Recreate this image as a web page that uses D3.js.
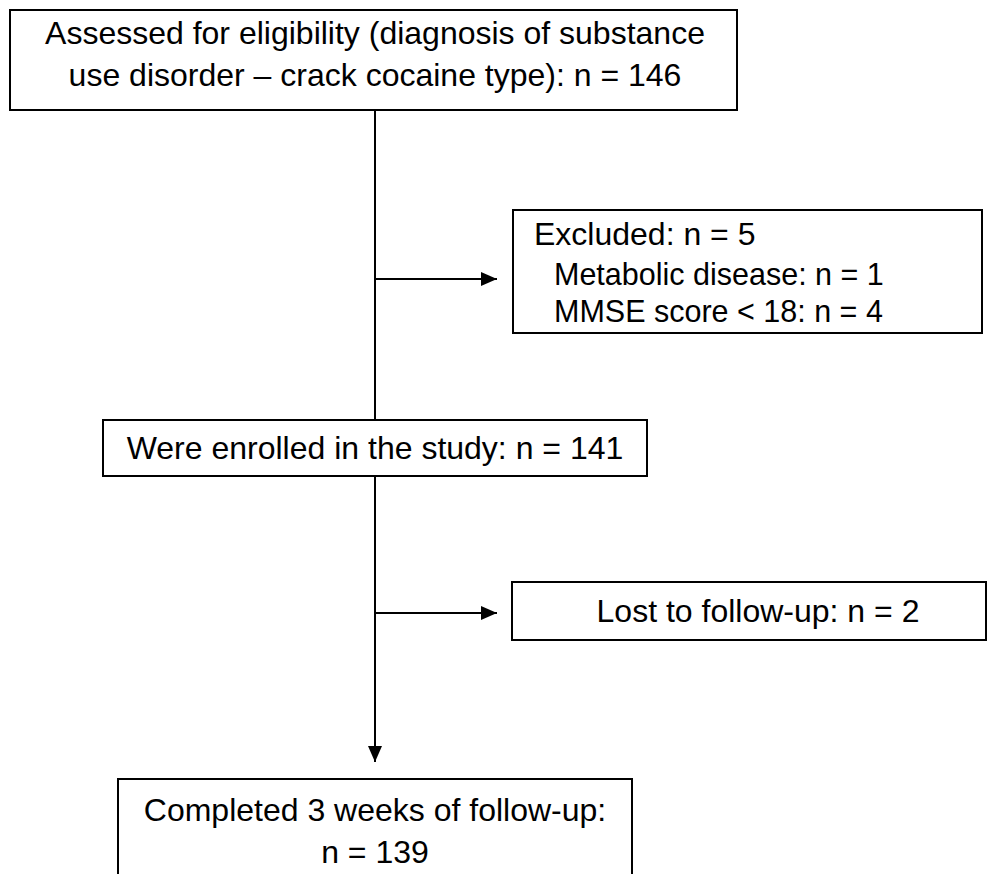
<!DOCTYPE html>
<html lang="en">
<head>
  <meta charset="UTF-8">
  <title>Study flow</title>
  <style>
    body { margin: 0; background: #fff; }
    .box { fill: #fff; stroke: #000; stroke-width: 2px; }
    .link { fill: none; stroke: #000; stroke-width: 2px; }
    text { font-family: "Liberation Sans", Arial, sans-serif; fill: #000; }
  </style>
</head>
<body>
  <script src="https://d3js.org/d3.v7.min.js"></script>
  <script>
    // flow data
    const stageLines = [
      ["Assessed for eligibility (diagnosis of substance", "use disorder \u2013 crack cocaine type): n = "],
      ["Were enrolled in the study: n = "],
      ["Completed 3 weeks of follow-up:", "n = "]
    ];
    const stageN = [146, 141, 139];
    const excludedN = 5;
    const exclusionReasons = ["Metabolic disease", "MMSE score < 18"];
    const exclusionN = [1, 4];
    const lostN = 2;

    const svg = d3.select('body')
      .append('svg')
      .attr('width', 991)
      .attr('height', 874);

    svg.append('defs').append('marker')
      .attr('id', 'arrow')
      .attr('viewBox', '0 0 16 14')
      .attr('refX', 16).attr('refY', 7)
      .attr('markerWidth', 16).attr('markerHeight', 14)
      .attr('markerUnits', 'userSpaceOnUse')
      .attr('orient', 'auto')
      .append('path')
      .attr('d', 'M0,0L16,7L0,14Z')
      .attr('fill', '#000');

    const cx = 375;

    // main boxes
    const mainBoxes = [
      {x: 10, y: 10, w: 727, h: 100, base: 44},
      {x: 103, y: 420, w: 544, h: 56, base: 459},
      {x: 118, y: 779, w: 514, h: 110, base: 821}
    ];
    mainBoxes.forEach((b, i) => {
      svg.append('rect').attr('class', 'box')
        .attr('x', b.x).attr('y', b.y).attr('width', b.w).attr('height', b.h);
      const lines = stageLines[i].slice();
      lines[lines.length - 1] += stageN[i];
      svg.append('g').selectAll('text')
        .data(lines)
        .join('text')
        .attr('x', cx)
        .attr('y', (d, j) => b.base + j * 42)
        .attr('text-anchor', 'middle')
        .style('font-size', '32px')
        .text(d => d);
    });

    // side boxes
    svg.append('rect').attr('class', 'box')
      .attr('x', 513).attr('y', 210).attr('width', 469).attr('height', 123);
    svg.append('text')
      .attr('x', 534).attr('y', 245)
      .style('font-size', '32px')
      .text(`Excluded: n = ${excludedN}`);
    svg.append('g').selectAll('text')
      .data(exclusionReasons)
      .join('text')
      .attr('x', 554)
      .attr('y', (d, i) => 285 + i * 37)
      .style('font-size', '30.5px')
      .text((d, i) => `${d}: n = ${exclusionN[i]}`);

    svg.append('rect').attr('class', 'box')
      .attr('x', 512).attr('y', 582).attr('width', 474).attr('height', 58);
    svg.append('text')
      .attr('x', 758).attr('y', 622)
      .attr('text-anchor', 'middle')
      .style('font-size', '32px')
      .text(`Lost to follow-up: n = ${lostN}`);

    // connectors
    svg.append('line').attr('class', 'link')
      .attr('x1', cx).attr('y1', 110).attr('x2', cx).attr('y2', 420);
    svg.append('line').attr('class', 'link')
      .attr('x1', cx).attr('y1', 476).attr('x2', cx).attr('y2', 762)
      .attr('marker-end', 'url(#arrow)');
    [279, 613].forEach(y => {
      svg.append('line').attr('class', 'link')
        .attr('x1', cx).attr('y1', y).attr('x2', 497).attr('y2', y)
        .attr('marker-end', 'url(#arrow)');
    });
  </script>
</body>
</html>
